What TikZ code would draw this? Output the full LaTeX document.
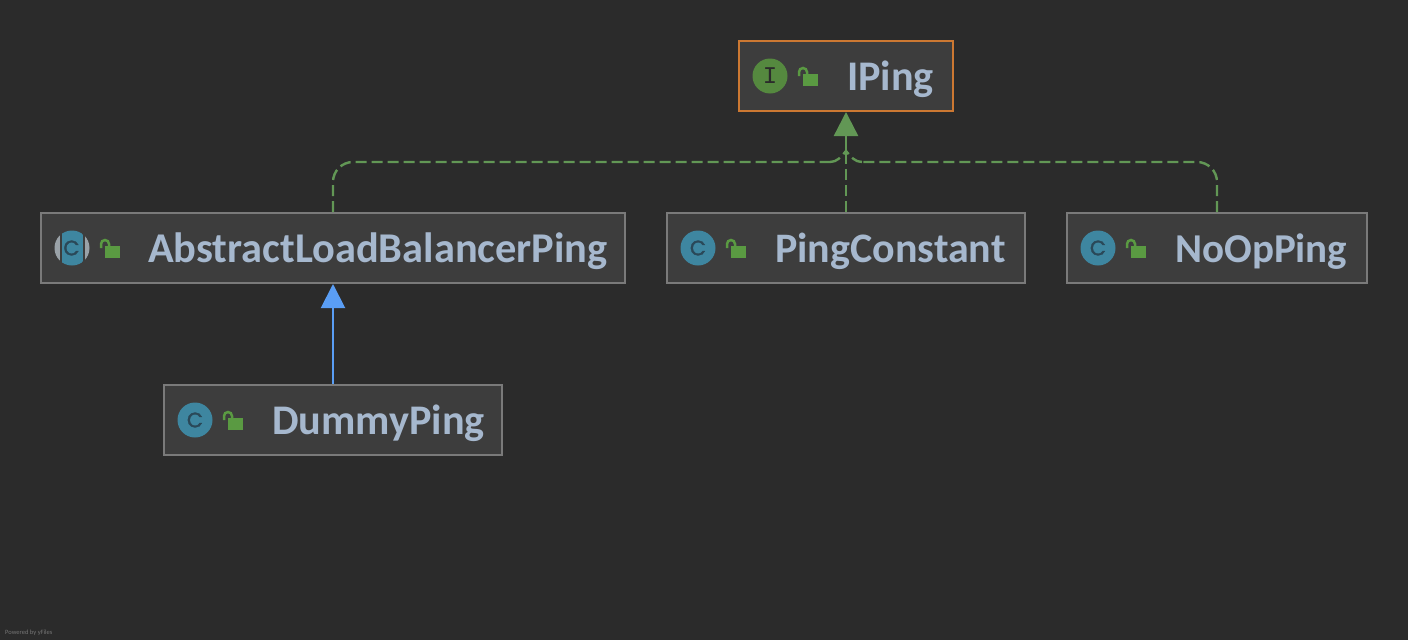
\documentclass[tikz,border=0pt]{standalone}
\usepackage{fontspec}
\setmainfont{Carlito}
\newfontfamily\glyphfont{Liberation Mono}
\newfontfamily\cfont[FakeBold=1.5]{Poppins}
\usetikzlibrary{arrows.meta}
\definecolor{bgc}{HTML}{2B2B2B}
\definecolor{boxc}{HTML}{3D3D3D}
\definecolor{edgec}{HTML}{7A7A7A}
\definecolor{orangec}{HTML}{CC7832}
\definecolor{textc}{HTML}{A6B8CE}
\definecolor{greenc}{HTML}{629755}
\definecolor{bluec}{HTML}{5A9EF5}
\definecolor{tealc}{HTML}{3E86A0}
\definecolor{igreen}{HTML}{55893F}
\definecolor{lockc}{HTML}{5A9A42}
\definecolor{capc}{HTML}{9AA2A8}
\definecolor{cglyphc}{HTML}{2A4858}
\tikzset{
  classbox/.style={draw=edgec,fill=boxc,line width=2pt,inner sep=0pt,anchor=north west},
  ifacebox/.style={classbox,draw=orangec},
  label text/.style={text=textc,font=\fontsize{42.2}{42}\selectfont\bfseries,anchor=base west,inner sep=0pt},
  iglyphstyle/.style={inner sep=0pt,text=bgc,font=\glyphfont\fontsize{24}{24}\selectfont},
  cglyphstyle/.style={inner sep=0pt,text=cglyphc,font=\cfont\fontsize{21}{21}\selectfont},
  dashedge/.style={draw=greenc,line width=2.4pt,dash pattern=on 11pt off 5pt},
  solidgreen/.style={draw=greenc,line width=2.4pt},
  bluearrow/.style={draw=bluec,line width=2pt,-{Triangle[length=24pt,width=24pt,fill=bluec]}},
  greenarrow/.style={solidgreen,-{Triangle[length=24pt,width=24pt,fill=greenc]}}
}
\newcommand{\lockicon}[2]{%
  \fill[lockc] (#1+33,#2-2) rectangle (#1+48,#2+10);
  \draw[lockc,line width=2.5pt] (#1+29,#2) -- (#1+29,#2-4) arc[start angle=180,end angle=0,radius=4pt] -- (#1+37,#2-2);
}
\begin{document}
\begin{tikzpicture}[x=1pt,y=-1pt]
\useasboundingbox (0,0) rectangle (1408,640);
\fill[bgc] (0,0) rectangle (1408,640);

\node[ifacebox,minimum width=214pt,minimum height=70pt] (iping) at (738,40) {};
\node[classbox,minimum width=584pt,minimum height=70pt] (abs) at (40,212) {};
\node[classbox,minimum width=358pt,minimum height=70pt] (pc) at (666,212) {};
\node[classbox,minimum width=300pt,minimum height=70pt] (noop) at (1066,212) {};
\node[classbox,minimum width=338pt,minimum height=70pt] (dummy) at (163,384) {};

% icons
\fill[igreen] (770,76) circle[radius=17.5pt];
\node[iglyphstyle] (iglyph) at (770,76) {I};
\lockicon{770}{76}

\begin{scope}
\clip (72,248) circle[radius=17.5pt];
\fill[capc] (54,230) rectangle (60,266);
\fill[capc] (84.5,230) rectangle (90,266);
\fill[tealc] (62,230) rectangle (83,266);
\end{scope}
\node[cglyphstyle] (aglyph) at (71.5,248) {C};
\lockicon{72}{248}

\fill[tealc] (698,248) circle[radius=17.5pt];
\node[cglyphstyle] (pglyph) at (698,248) {C};
\lockicon{698}{248}

\fill[tealc] (1098,248) circle[radius=17.5pt];
\node[cglyphstyle] (nglyph) at (1098,248) {C};
\lockicon{1098}{248}

\fill[tealc] (195,420) circle[radius=17.5pt];
\node[cglyphstyle] (dglyph) at (195,420) {C};
\lockicon{195}{420}

% labels
\node[label text] (tiping) at (847,90.5) {IPing};
\node[label text,font=\fontsize{42.4}{42}\selectfont\bfseries] (tabs) at (148,262.5) {AbstractLoadBalancerPing};
\node[label text,font=\fontsize{42}{42}\selectfont\bfseries] (tpc) at (775,262.5) {PingConstant};
\node[label text,font=\fontsize{41}{41}\selectfont\bfseries] (tnoop) at (1175,262.5) {NoOpPing};
\node[label text] (tdummy) at (272,434.5) {DummyPing};

% connectors
\coordinate (joint) at (iping.south |- 0,151);
\coordinate (jointlow) at (iping.south |- 0,156);
\coordinate (leftbend) at (abs.north |- 0,162);
\coordinate (rightbend) at (noop.north |- 0,162);
\draw[greenarrow] (jointlow) -- (iping.south);
\draw[dashedge] (pc.north) -- (jointlow);
\draw[dashedge,rounded corners=20pt] (abs.north) -- (leftbend) -- (830,162);
\draw[dashedge] (830,162) .. controls (837,162) and (841,157) .. (joint);
\draw[dashedge,rounded corners=20pt] (noop.north) -- (rightbend) -- (862,162);
\draw[dashedge] (862,162) .. controls (855,162) and (851,157) .. (joint);
\draw[bluearrow] (dummy.north) -- (abs.south);

\node[anchor=base west,inner sep=0pt,text=white!35!bgc,font=\fontsize{6.5}{6.5}\selectfont] (yf) at (5,634) {Powered by yFiles};
\end{tikzpicture}
\end{document}
